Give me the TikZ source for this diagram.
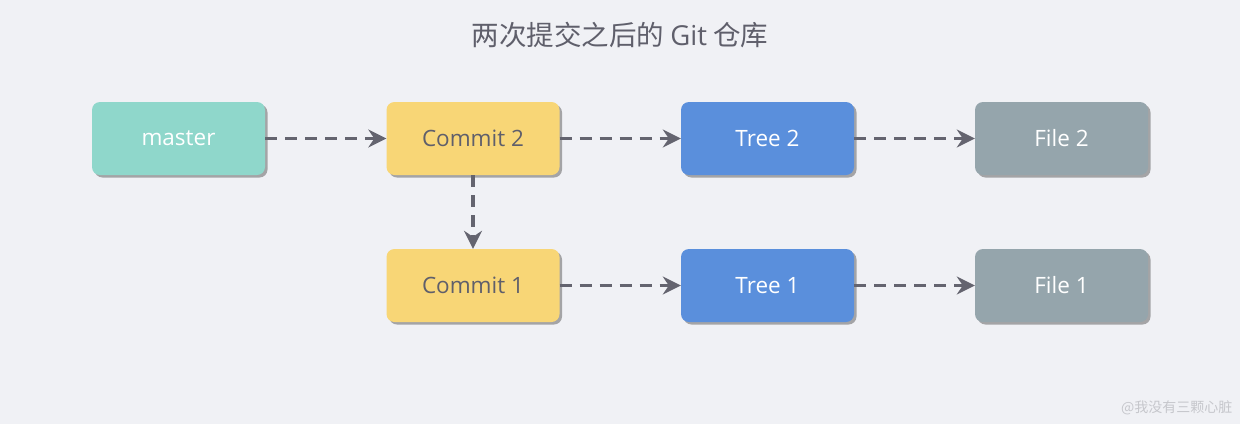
\documentclass[tikz,border=0pt]{standalone}
\usepackage{fontspec}
\setmainfont{Noto Sans CJK SC}
\newfontfamily\latinfont{Open Sans}
\usetikzlibrary{arrows.meta,shadows}
\definecolor{bg}{HTML}{F0F1F5}
\definecolor{cmaster}{HTML}{8FD7CB}
\definecolor{ccommit}{HTML}{F8D676}
\definecolor{ctree}{HTML}{5A8FDC}
\definecolor{cfile}{HTML}{95A5AC}
\definecolor{ctext}{HTML}{5F5F6B}
\definecolor{carrow}{HTML}{64646F}
\definecolor{cwm}{HTML}{C6C7CC}
\tikzset{
  box/.style={rounded corners=8pt, minimum width=173pt, minimum height=73pt, inner sep=0pt,
    font=\latinfont\fontsize{22.5}{26}\selectfont,
    drop shadow={shadow xshift=2.5pt, shadow yshift=-2.5pt, opacity=0.5, fill=black!65}},
  masterbox/.style={box, fill=cmaster, text=white},
  commitbox/.style={box, fill=ccommit, text=ctext},
  treebox/.style={box, fill=ctree, text=white},
  filebox/.style={box, fill=cfile, text=white},
  link/.style={draw=carrow, line width=3.5pt, dash pattern=on 12pt off 8pt,
    -{Stealth[length=18pt, width=18pt, inset=6pt]}},
}
\begin{document}
\begin{tikzpicture}[x=1pt,y=-1pt]
\fill[bg] (0,0) rectangle (1240,424);
\useasboundingbox (0,0) rectangle (1240,424);
\node[text=ctext, font=\fontsize{27.5}{32}\selectfont] (title) at (620,35) {两次提交之后的 {\latinfont Git} 仓库};
\node[masterbox] (master) at (178.5,138.5) {master};
\node[commitbox] (c2) at (473,138.5) {Commit 2};
\node[treebox] (t2) at (767.5,138.5) {Tree 2};
\node[filebox] (f2) at (1061.5,138.5) {File 2};
\node[commitbox] (c1) at (473,285.5) {Commit 1};
\node[treebox] (t1) at (767.5,285.5) {Tree 1};
\node[filebox] (f1) at (1061.5,285.5) {File 1};
\draw[link] (master) -- (c2);
\draw[link] (c2) -- (t2);
\draw[link] (t2) -- (f2);
\draw[link] (c2) -- (c1);
\draw[link] (c1) -- (t1);
\draw[link] (t1) -- (f1);
\node[text=cwm, font=\fontsize{14}{16}\selectfont, anchor=east] (wm) at (1236,408) {@我没有三颗心脏};
\end{tikzpicture}
\end{document}
